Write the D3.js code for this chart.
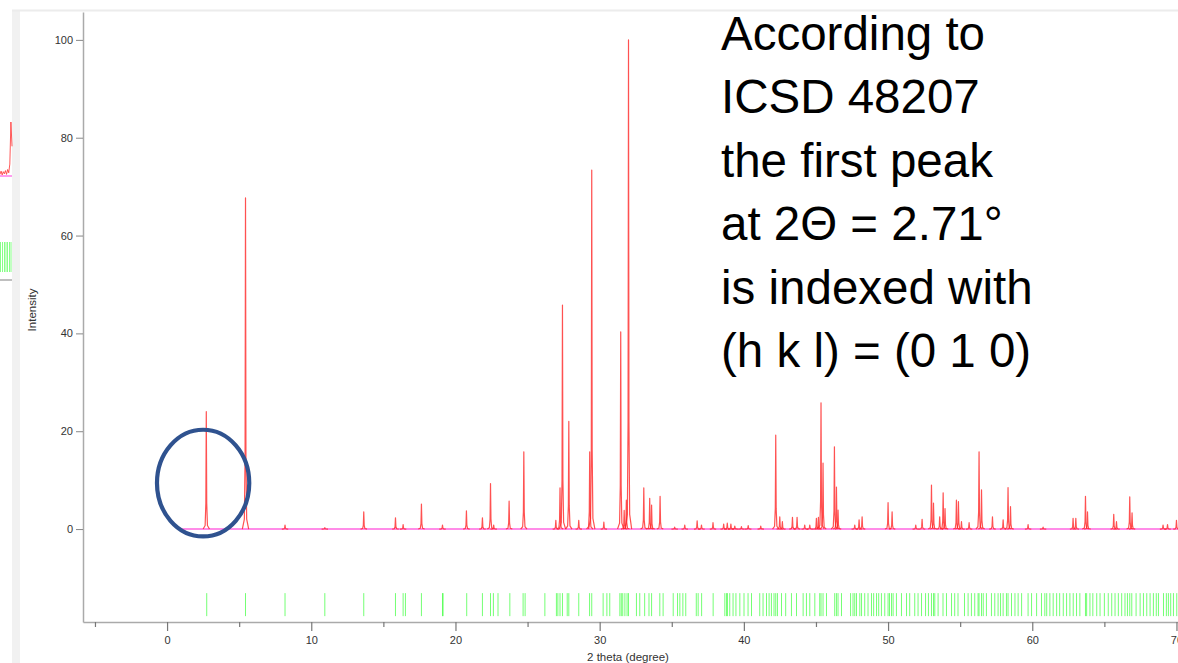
<!DOCTYPE html>
<html>
<head>
<meta charset="utf-8">
<script src="https://cdn.jsdelivr.net/npm/d3@7"></script>
<style>
  html, body { margin: 0; padding: 0; background: #fff; }
  svg { display: block; font-family: "Liberation Sans", Arial, sans-serif; }
</style>
</head>
<body>
<svg id="chart" width="1178" height="663"></svg>
<script>
// calculated pattern: peak positions (2 theta, degree) and relative intensity
const peakPos = [2.72, 5.44, 8.18, 10.94, 13.64, 15.84, 16.37, 17.64, 19.1, 20.76, 21.87, 22.43, 22.65,
  23.72, 24.74, 26.96, 27.25, 27.42, 27.86, 28.55, 29.31, 29.45, 30.29, 31.46, 31.7, 31.85, 32.0,
  33.06, 33.47, 33.6, 34.19, 35.2, 35.9, 36.76, 37.06, 37.86, 38.6, 38.85, 39.1, 39.37, 39.83, 40.3,
  41.17, 42.21, 42.49, 42.67, 43.37, 43.69, 44.22, 44.57, 45.03, 45.17, 45.35, 45.49, 46.28, 46.42,
  46.53, 47.69, 47.99, 48.2, 50.0, 50.28, 51.92, 52.36, 53.01, 53.15, 53.58, 53.82, 53.95, 54.74,
  54.88, 55.09, 55.62, 56.31, 56.48, 57.24, 57.98, 58.32, 58.49, 59.71, 60.75, 62.83, 63.02, 63.69,
  63.83, 65.65, 65.84, 66.76, 66.92, 69.07, 69.38, 70.0];
const peakInt = [24, 67.7, 0.8, 0.3, 3.5, 2.3, 0.9, 5.1, 0.8, 3.7, 2.3, 9.3, 0.8,
  5.7, 15.8, 1.8, 8.4, 45.8, 22.0, 1.8, 15.8, 73.4, 1.4, 40.3, 3.8, 5.9, 100,
  8.4, 6.3, 4.9, 6.7, 0.4, 0.8, 1.7, 0.8, 1.3, 1.0, 1.2, 1.0, 0.6, 0.5, 0.7,
  0.6, 19.2, 2.5, 1.5, 2.4, 2.4, 0.8, 0.8, 2.2, 2.4, 25.8, 13.5, 16.8, 8.6,
  3.9, 0.8, 1.9, 2.5, 5.4, 3.5, 0.8, 2.0, 9.0, 5.3, 2.5, 7.4, 4.2, 5.9,
  5.6, 1.5, 1.3, 15.8, 8.0, 2.5, 1.9, 8.5, 4.6, 0.9, 0.4, 2.2, 2.2, 6.7,
  3.5, 3.0, 1.5, 6.6, 3.3, 0.8, 0.9, 1.8];

// Bragg reflection markers (2 theta, degree)
const reflections = [2.75, 5.44, 8.18, 10.94, 13.64, 15.84, 16.37, 16.53, 17.64, 19.1, 19.14, 20.78,
  21.87, 22.43, 22.63, 22.95, 23.77, 24.69, 24.83, 26.2, 27.0, 27.1, 27.25, 27.42, 27.75, 27.86,
  28.55, 29.3, 29.45, 30.24, 30.5, 30.7, 31.4, 31.5, 31.6, 31.75, 31.9, 32.0, 32.55, 32.78, 33.12,
  33.42, 33.6, 34.17, 34.4, 35.1, 35.4, 35.56, 35.77, 35.97, 36.7, 36.83, 37.07, 37.87, 38.68, 38.8,
  38.86, 39.02, 39.25, 39.45, 39.72, 40.01, 40.29, 40.53, 41.1, 41.33, 41.57, 41.75, 41.91, 42.09,
  42.21, 42.33, 42.61, 42.9, 43.3, 43.65, 44.11, 44.34, 44.57, 44.92, 45.26, 45.35, 45.49, 45.73,
  46.3, 46.42, 46.53, 46.77, 47.4, 47.57, 47.69, 47.81, 48.04, 48.16, 48.38, 48.61, 48.85, 49.0,
  49.2, 49.35, 49.54, 49.77, 50.0, 50.1, 50.24, 50.35, 50.58, 50.93, 51.28, 51.5, 51.85, 52.08,
  52.32, 52.6, 52.8, 53.01, 53.15, 53.24, 53.47, 53.81, 54.05, 54.4, 54.62, 54.85, 55.3, 55.55,
  55.78, 56.01, 56.24, 56.31, 56.48, 56.6, 56.82, 57.17, 57.4, 57.63, 57.8, 57.98, 58.21, 58.32,
  58.56, 58.8, 59.02, 59.26, 59.71, 59.95, 60.3, 60.64, 60.87, 61.0, 61.22, 61.45, 61.69, 61.9,
  62.15, 62.38, 62.61, 62.84, 63.07, 63.3, 63.69, 63.77, 64.0, 64.2, 64.47, 64.7, 65.0, 65.27,
  65.51, 65.74, 65.97, 66.2, 66.43, 66.6, 66.76, 66.9, 67.2, 67.48, 67.71, 67.94, 68.17, 68.4,
  68.6, 68.75, 69.1, 69.3, 69.44, 69.6, 69.79, 70.02];

const yTicks = [0, 20, 40, 60, 80, 100];
const xMajorTicks = [0, 10, 20, 30, 40, 50, 60, 70];
const xMinorTicks = [-5, 5, 15, 25, 35, 45, 55, 65, 75];

const noteLines = ["According to", "ICSD 48207", "the first peak", "at 2\u0398 = 2.71\u00B0",
  "is indexed with", "(h k l) = (0 1 0)"];

// first-peak marker (2 theta, intensity, radii in data units)
const marker = { cx: 2.5, cy: 9.4, rx: 3.2, ry: 10.9 };

// fragment of the neighbouring plot at the left border
const stripTrace = [3, 9, 2, 8, 4, 10, 3, 12, 6, 22, 100, 55];
const stripTicks = [0.5, 2.5, 4.5, 6, 7.5, 9.5, 11];

const svg = d3.select('#chart');
const width = 1178, height = 663;

const x = d3.scaleLinear().domain([-5.83, 75]).range([83, 83 + 80.83 * 14.42]);
const y = d3.scaleLinear().domain([-19, 105.7]).range([622, 12]);

// page frame bits
svg.append('rect').attr('x', 12).attr('y', 10).attr('width', 8).attr('height', height - 10)
  .attr('fill', '#f1f1f1');
svg.append('line').attr('x1', 12).attr('x2', width).attr('y1', 10.5).attr('y2', 10.5)
  .attr('stroke', '#ececec').attr('stroke-width', 2);

// left strip
const sx = d3.scaleLinear().domain([0, stripTrace.length - 1]).range([0, 12]);
const sy = d3.scaleLinear().domain([0, 100]).range([176, 122]);
svg.append('line').attr('x1', 0).attr('x2', 12).attr('y1', sy(0)).attr('y2', sy(0))
  .attr('stroke', '#ff9cef').attr('stroke-width', 2);
svg.append('path').datum(stripTrace)
  .attr('d', d3.line().x((d, i) => sx(i)).y(d => sy(d)))
  .attr('fill', 'none').attr('stroke', '#ff3030').attr('stroke-width', 1).attr('opacity', 0.8);
svg.append('g').selectAll('line').data(stripTicks).enter().append('line')
  .attr('x1', d => d).attr('x2', d => d).attr('y1', 242).attr('y2', 272)
  .attr('stroke', '#55ff55').attr('stroke-width', 1).attr('opacity', 0.7);
svg.append('line').attr('x1', 0).attr('x2', 12).attr('y1', 280).attr('y2', 280)
  .attr('stroke', '#aaa').attr('stroke-width', 1.5);

// axes
const yAxis = svg.append('g').attr('transform', 'translate(83,0)')
  .call(d3.axisLeft(y).tickValues(yTicks).tickSize(7).tickPadding(3).tickSizeOuter(0));
yAxis.select('.domain').attr('stroke', '#aaa').attr('stroke-width', 1.5);
yAxis.selectAll('.tick line').attr('stroke', '#888');
yAxis.selectAll('.tick text').attr('fill', '#333').attr('font-size', 11)
  .attr('font-family', '"Liberation Sans", Arial, sans-serif');

const xAxis = svg.append('g').attr('transform', 'translate(0,622)')
  .call(d3.axisBottom(x).tickValues(xMajorTicks).tickSize(9).tickPadding(5).tickSizeOuter(0));
xAxis.select('.domain').attr('stroke', '#aaa').attr('stroke-width', 1.5);
xAxis.selectAll('.tick line').attr('stroke', '#777').attr('stroke-width', 1.2);
xAxis.selectAll('.tick text').attr('fill', '#333').attr('font-size', 11)
  .attr('font-family', '"Liberation Sans", Arial, sans-serif');

const xMinor = svg.append('g').attr('transform', 'translate(0,622)')
  .call(d3.axisBottom(x).tickValues(xMinorTicks).tickSize(5).tickFormat(''));
xMinor.select('.domain').remove();
xMinor.selectAll('.tick line').attr('stroke', '#777').attr('stroke-width', 1.2);

svg.append('text').attr('x', 628).attr('y', 661).attr('text-anchor', 'middle')
  .attr('font-size', 11.5).attr('fill', '#333').text('2 theta (degree)');
svg.append('text').attr('transform', 'translate(36,310) rotate(-90)').attr('text-anchor', 'middle')
  .attr('font-size', 11.5).attr('fill', '#333').text('Intensity');

// reflection markers
svg.append('g').selectAll('line').data(reflections).enter().append('line')
  .attr('x1', d => x(d)).attr('x2', d => x(d))
  .attr('y1', y(-13.1)).attr('y2', y(-17.8))
  .attr('stroke', '#2cff2c').attr('stroke-width', 1).attr('opacity', 0.65);

// baseline of the pattern
svg.append('line').attr('x1', x(1)).attr('x2', width).attr('y1', y(0)).attr('y2', y(0))
  .attr('stroke', '#ff8ce8').attr('stroke-width', 2);

// peak profile shape: offsets (degree) and fraction of the peak height
const profile = [[-0.22, 0], [-0.08, 0.03], [-0.03, 0.22], [0, 1], [0.03, 0.22], [0.08, 0.03], [0.22, 0]];
const peaks = peakPos.map((p, i) => ({ pos: p, h: peakInt[i] }));
const peakLine = d3.line().x(d => x(d[0])).y(d => y(d[1]));
svg.append('g').selectAll('path').data(peaks).enter().append('path')
  .attr('d', d => peakLine(profile.map(([dx, f]) => [d.pos + dx, d.h * f])))
  .attr('fill', 'none').attr('stroke', '#ff2626').attr('stroke-width', 1.2)
  .attr('stroke-linejoin', 'round').attr('opacity', 0.8);

// first peak annotation
svg.append('ellipse')
  .attr('cx', x(marker.cx)).attr('cy', y(marker.cy))
  .attr('rx', x(marker.cx + marker.rx) - x(marker.cx))
  .attr('ry', y(marker.cy - marker.ry) - y(marker.cy))
  .attr('fill', 'none').attr('stroke', '#2f528f').attr('stroke-width', 4.2);

svg.append('g').selectAll('text').data(noteLines).enter().append('text')
  .attr('x', 721).attr('y', (d, i) => 50 + i * 63.4)
  .attr('font-size', 47.5).attr('fill', '#000').text(d => d);
</script>
</body>
</html>
